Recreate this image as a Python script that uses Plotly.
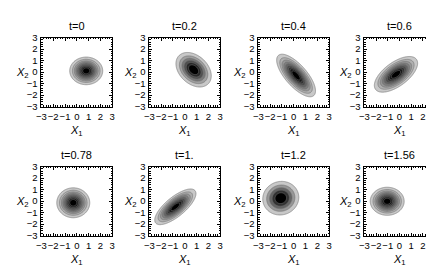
import numpy as np
import plotly.graph_objects as go

# ---- data ----
titles = ["t=0", "t=0.2", "t=0.4", "t=0.6", "t=0.78", "t=1.", "t=1.2", "t=1.56"]
mean_x = [0.8, 0.75, 0.2, -0.3, -0.3, -0.8, -1.1, -1.05]
mean_y = [0.1, 0.2, -0.3, -0.2, -0.15, -0.5, 0.25, -0.02]
outer_half_x = [1.4, 1.5, 1.65, 1.85, 1.4, 1.75, 1.53, 1.45]
outer_half_y = [1.2, 1.5, 1.85, 1.55, 1.3, 1.55, 1.46, 1.22]
corr = [0.0, -0.35, -0.72, 0.62, 0.0, 0.74, 0.05, 0.0]
n_levels = [9, 6, 9, 9, 9, 9, 5, 9]
tick_vals = [-3, -2, -1, 0, 1, 2, 3]
tick_text = ["\u22123", "\u22122", "\u22121", "0", "1", "2", "3"]

W, H = 434, 270
col_px = [(29, 101), (139, 211), (250, 322), (358, 429.5)]
row_px = [(24.5, 96.5), (159, 231)]

grid = np.linspace(-3, 3, 241)
GX, GY = np.meshgrid(grid, grid)

fig = go.Figure()
annotations = []
FONT = "Liberation Sans, Arial, sans-serif"

for i in range(8):
    r, c = divmod(i, 4)
    nl = n_levels[i]
    lowest = 1.0 / (nl + 1)
    q_outer = -2 * np.log(lowest)
    sx = outer_half_x[i] / np.sqrt(q_outer)
    sy = outer_half_y[i] / np.sqrt(q_outer)
    p = corr[i]
    dx = (GX - mean_x[i]) / sx
    dy = (GY - mean_y[i]) / sy
    Q = (dx * dx - 2 * p * dx * dy + dy * dy) / (1 - p * p)
    Z = np.exp(-0.5 * Q)
    step = 1.0 / (nl + 1)
    nreg = nl + 1
    cs = [[0, "rgb(255,255,255)"], [1.0 / (nreg - 1), "rgb(200,200,200)"], [1, "rgb(0,0,0)"]]
    ax = "" if i == 0 else str(i + 1)
    fig.add_trace(go.Contour(
        x=grid, y=grid, z=Z,
        contours=dict(start=step, end=step * nl + 1e-9, size=step, coloring="fill"),
        colorscale=cs, showscale=False,
        line=dict(color="rgb(110,110,110)", width=0.6),
        xaxis="x" + ax, yaxis="y" + ax, hoverinfo="skip",
    ))
    x0, x1 = col_px[c]
    y0, y1 = row_px[r]
    axis_common = dict(
        range=[-3, 3], tickvals=tick_vals, ticktext=tick_text,
        ticks="inside", ticklen=3, tickwidth=1, tickcolor="black",
        showline=True, linecolor="black", linewidth=1, mirror="ticks",
        showgrid=False, zeroline=False, tickangle=0,
        tickfont=dict(family=FONT, size=9.5, color="black"),
        minor=dict(ticks="inside", dtick=0.2, ticklen=1.5, tickcolor="black", showgrid=False),
        fixedrange=True,
    )
    fig.layout["xaxis" + ax] = dict(axis_common, domain=[x0 / W, x1 / W], anchor="y" + ax, ticklabelstandoff=1)
    fig.layout["yaxis" + ax] = dict(axis_common, domain=[1 - y1 / H, 1 - y0 / H], anchor="x" + ax, ticklabelstandoff=1)

    cx = (x0 + x1) / 2
    annotations.append(dict(text=titles[i], x=cx / W, y=1 - (y0 - 12) / H, xref="paper", yref="paper",
                            showarrow=False, font=dict(family=FONT, size=11, color="black"),
                            xanchor="center", yanchor="middle"))
    annotations.append(dict(text="<i>X</i><sub>1</sub>", x=cx / W, y=1 - (y1 + 25) / H, xref="paper", yref="paper",
                            showarrow=False, font=dict(family=FONT, size=11, color="black"),
                            xanchor="center", yanchor="middle"))
    annotations.append(dict(text="<i>X</i><sub>2</sub>", x=(x0 - 19) / W, y=1 - ((y0 + y1) / 2 + 1) / H,
                            xref="paper", yref="paper",
                            showarrow=False, font=dict(family=FONT, size=11, color="black"),
                            xanchor="center", yanchor="middle"))

fig.update_layout(
    width=W, height=H, margin=dict(l=0, r=0, t=0, b=0),
    paper_bgcolor="white", plot_bgcolor="white",
    showlegend=False, annotations=annotations,
)
fig.write_html("out.html")
